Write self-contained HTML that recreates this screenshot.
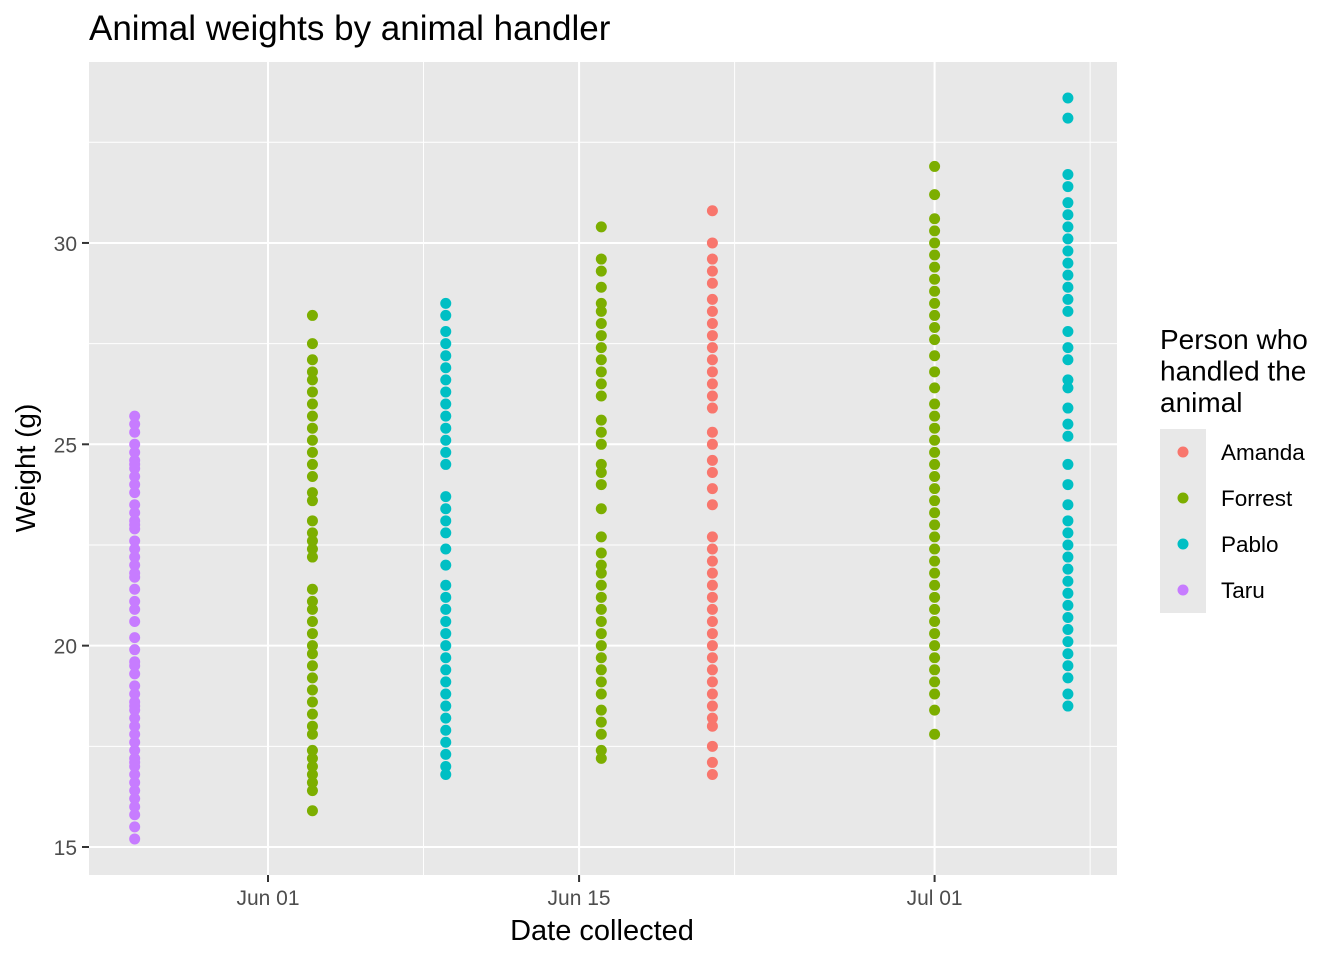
<!DOCTYPE html>
<html><head><meta charset="utf-8"><style>
body{margin:0;background:#fff}
svg text{font-family:"Liberation Sans",sans-serif}
</style></head><body>
<svg id="chart" width="1344" height="960" xmlns="http://www.w3.org/2000/svg">
<text x="89" y="40" font-size="35" fill="#000">Animal weights by animal handler</text>
<rect x="89" y="62" width="1028" height="813" fill="#e8e8e8"/>
<g id="grid"></g><g id="axes"></g><g id="points"></g>
<text x="602" y="940" font-size="29" text-anchor="middle">Date collected</text>
<text transform="translate(35,468) rotate(-90)" font-size="28" text-anchor="middle">Weight (g)</text>
<g>
<text x="1160" y="349" font-size="28"><tspan x="1160">Person who</tspan><tspan x="1160" dy="31.5">handled the</tspan><tspan x="1160" dy="31.5">animal</tspan></text>
<rect x="1160" y="429" width="46" height="184" fill="#e8e8e8"/>
<g id="legend-items"></g>
</g>
</svg>
<script>
const names=["Amanda","Forrest","Pablo","Taru"];
const colors=["#F8766D","#7CAE00","#00BFC4","#C77CFF"];
const groupHandler=["Taru","Forrest","Pablo","Forrest","Amanda","Forrest","Pablo"];
const groupDay=[-6,2,8,15,20,30,36]; // days since Jun 01
const w0=[15.2,15.5,15.8,16.0,16.2,16.4,16.6,16.8,17.0,17.2,17.4,17.6,17.8,18.0,18.2,18.4,18.6,18.8,19.0,19.3,19.6,19.9,20.2,20.6,20.9,21.1,21.4,21.7,22.0,22.2,22.4,22.6,22.9,23.1,23.3,23.5,23.8,24.0,24.2,24.4,24.6,24.8,25.0,25.3,25.5,25.7,17.1,18.5,19.5,21.8,23.0,24.5];
const w1=[15.9,16.4,16.6,16.8,17.0,17.2,17.4,17.8,18.0,18.3,18.6,18.9,19.2,19.5,19.8,20.0,20.3,20.6,20.9,21.1,21.4,22.2,22.4,22.6,22.8,23.1,23.6,23.8,24.2,24.5,24.8,25.1,25.4,25.7,26.0,26.3,26.6,26.8,27.1,27.5,28.2];
const w2=[16.8,17.0,17.3,17.6,17.9,18.2,18.5,18.8,19.1,19.4,19.7,20.0,20.3,20.6,20.9,21.2,21.5,22.0,22.4,22.8,23.1,23.4,23.7,24.5,24.8,25.1,25.4,25.7,26.0,26.3,26.6,26.9,27.2,27.5,27.8,28.2,28.5];
const w3=[17.2,17.4,17.8,18.1,18.4,18.8,19.1,19.4,19.7,20.0,20.3,20.6,20.9,21.2,21.5,21.8,22.0,22.3,22.7,23.4,24.0,24.3,24.5,25.0,25.3,25.6,26.2,26.5,26.8,27.1,27.4,27.7,28.0,28.3,28.5,28.9,29.3,29.6,30.4];
const w4=[16.8,17.1,17.5,18.0,18.2,18.5,18.8,19.1,19.4,19.7,20.0,20.3,20.6,20.9,21.2,21.5,21.8,22.1,22.4,22.7,23.5,23.9,24.3,24.6,25.0,25.3,25.9,26.2,26.5,26.8,27.1,27.4,27.7,28.0,28.3,28.6,29.0,29.3,29.6,30.0,30.8];
const w5=[17.8,18.4,18.8,19.1,19.4,19.7,20.0,20.3,20.6,20.9,21.2,21.5,21.8,22.1,22.4,22.7,23.0,23.3,23.6,23.9,24.2,24.5,24.8,25.1,25.4,25.7,26.0,26.4,26.8,27.2,27.6,27.9,28.2,28.5,28.8,29.1,29.4,29.7,30.0,30.3,30.6,31.2,31.9];
const w6=[18.5,18.8,19.2,19.5,19.8,20.1,20.4,20.7,21.0,21.3,21.6,21.9,22.2,22.5,22.8,23.1,23.5,24.0,24.5,25.2,25.5,25.9,26.4,26.6,27.1,27.4,27.8,28.3,28.6,28.9,29.2,29.5,29.8,30.1,30.4,30.7,31.0,31.4,31.7,33.1,33.6];
const weights=[w0,w1,w2,w3,w4,w5,w6];
const yTicks=[15,20,25,30];
const yMinor=[17.5,22.5,27.5,32.5];
const xTicks=[0,14,30];
const xTickLabels=["Jun 01","Jun 15","Jul 01"];
const xMinor=[7,21,37];

const NS="http://www.w3.org/2000/svg";
const X=d=>268+d*22.22, Y=v=>847-(v-15)*40.27;
function mk(t,a,p){const e=document.createElementNS(NS,t);for(const k in a)e.setAttribute(k,a[k]);p.appendChild(e);return e;}
const grid=document.getElementById('grid'),axes=document.getElementById('axes'),pts=document.getElementById('points');
yMinor.forEach(v=>{const l=mk('line',{x1:89,x2:1117,y1:Y(v),y2:Y(v),stroke:'#fff','stroke-width':1},grid);

});
xMinor.forEach(d=>{const l=mk('line',{x1:X(d),x2:X(d),y1:62,y2:875,stroke:'#fff','stroke-width':1},grid);

});
yTicks.forEach(v=>{const l=mk('line',{x1:89,x2:1117,y1:Y(v),y2:Y(v),stroke:'#fff','stroke-width':2},grid);


const t=mk('line',{x1:82,x2:89,y1:Y(v),y2:Y(v),stroke:'#333','stroke-width':2},axes);


const tx=mk('text',{x:77,y:Y(v)+8,'font-size':21,fill:'#4d4d4d','text-anchor':'end'},axes);tx.textContent=v;

});
xTicks.forEach((d,i)=>{const l=mk('line',{x1:X(d),x2:X(d),y1:62,y2:875,stroke:'#fff','stroke-width':2},grid);


const t=mk('line',{x1:X(d),x2:X(d),y1:875,y2:882,stroke:'#333','stroke-width':2},axes);


const tx=mk('text',{x:X(d),y:905,'font-size':21,fill:'#4d4d4d','text-anchor':'middle'},axes);tx.textContent=xTickLabels[i];

});
weights.forEach((arr,g)=>{const c=colors[names.indexOf(groupHandler[g])];
arr.forEach(v=>{const p=mk('circle',{cx:X(groupDay[g]),cy:Y(v),r:5.5,fill:c},pts);

});});
const li=document.getElementById('legend-items');
names.forEach((n,i)=>{const y=452+i*46;
const c=mk('circle',{cx:1183,cy:y,r:5.5,fill:colors[i]},li);


const t=mk('text',{x:1221,y:y+8,'font-size':22.5},li);t.textContent=n;

});
</script>
</body></html>
